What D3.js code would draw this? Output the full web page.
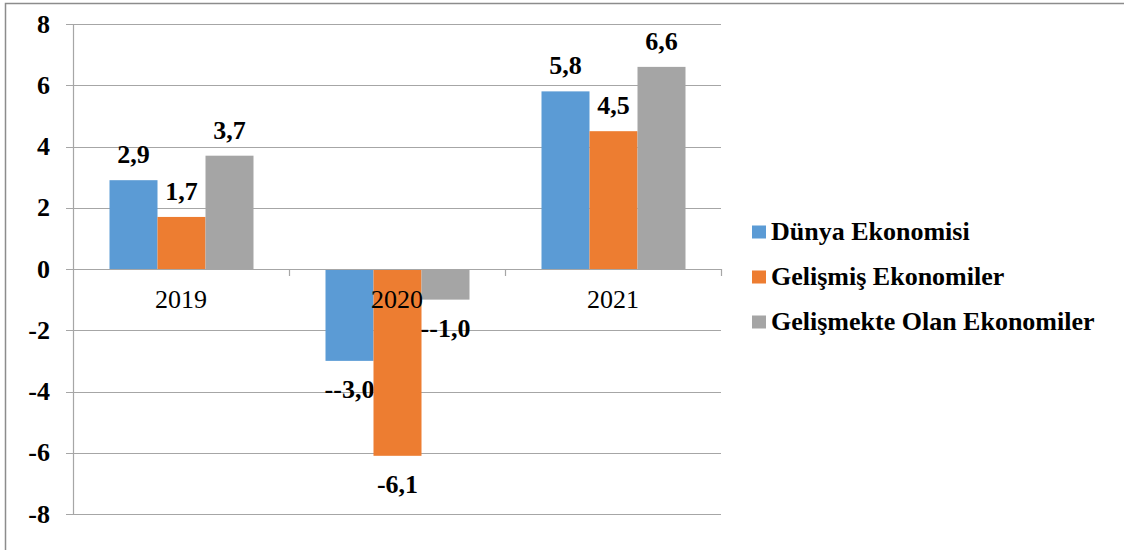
<!DOCTYPE html>
<html>
<head>
<meta charset="utf-8">
<script src="https://cdn.jsdelivr.net/npm/d3@7"></script>
<style>
  body { margin: 0; background: #fff; }
</style>
</head>
<body>
<svg id="chart" width="1124" height="550"></svg>
<script>
// data
const years = ['2019', '2020', '2021'];
const seriesNames = ['Dünya Ekonomisi', 'Gelişmiş Ekonomiler', 'Gelişmekte Olan Ekonomiler'];
const dunya = [2.9, -3.0, 5.8];
const gelismis = [1.7, -6.1, 4.5];
const gelismekte = [3.7, -1.0, 6.6];
// labels as printed in the source
const dunyaLabels = ['2,9', '--3,0', '5,8'];
const gelismisLabels = ['1,7', '-6,1', '4,5'];
const gelismekteLabels = ['3,7', '--1,0', '6,6'];
const yTicks = [-8, -6, -4, -2, 0, 2, 4, 6, 8];
const colors = ['#5b9bd5', '#ed7d31', '#a5a5a5'];

const series = [dunya, gelismis, gelismekte];
const seriesLabels = [dunyaLabels, gelismisLabels, gelismekteLabels];
const serifFont = '"Liberation Serif"';
const gridColor = '#a6a6a6';

const svg = d3.select('#chart').style('font-family', serifFont);

// outer border
svg.append('rect')
    .attr('x', 5.5).attr('y', 3.5)
    .attr('width', 1140).attr('height', 560)
    .attr('fill', 'none').attr('stroke', '#8c8c8c').attr('stroke-width', 1.5);

const plot = {left: 73, right: 721, top: 24, bottom: 514};

const y = d3.scaleLinear().domain([-8, 8]).range([plot.bottom, plot.top]);
const x0 = d3.scaleBand().domain(years).range([plot.left, plot.right]);
const x1 = d3.scaleBand().domain(d3.range(3)).range([36.5, x0.bandwidth() - 35.5]);

// gridlines
svg.append('g').selectAll('line').data(yTicks).join('line')
    .attr('x1', plot.left - 7).attr('x2', plot.right)
    .attr('y1', d => Math.round(y(d)) + 0.5).attr('y2', d => Math.round(y(d)) + 0.5)
    .attr('stroke', gridColor).attr('stroke-width', 1.2);

// y axis line
svg.append('line')
    .attr('x1', plot.left + 0.5).attr('x2', plot.left + 0.5)
    .attr('y1', plot.top).attr('y2', plot.bottom)
    .attr('stroke', gridColor).attr('stroke-width', 1.2);

// y labels
svg.append('g').selectAll('text').data(yTicks).join('text')
    .attr('x', 50).attr('y', d => y(d))
    .attr('dy', '0.33em')
    .attr('text-anchor', 'end')
    .style('font-family', serifFont)
    .attr('font-weight', 'bold').attr('font-size', 26)
    .text(d => d);

// bars
const groups = svg.append('g').selectAll('g').data(years).join('g')
    .attr('transform', d => `translate(${x0(d)},0)`);

groups.each(function (yr, i) {
    const g = d3.select(this);
    series.forEach((s, k) => {
        const v = s[i];
        g.append('rect')
            .attr('x', x1(k)).attr('width', x1.bandwidth())
            .attr('y', y(Math.max(0, v)))
            .attr('height', Math.abs(y(v) - y(0)))
            .attr('fill', colors[k]);
        g.append('text')
            .attr('x', x1(k) + x1.bandwidth() / 2)
            .attr('y', v >= 0 ? y(v) - 17 : y(v) + 37)
            .attr('text-anchor', 'middle')
            .style('font-family', serifFont)
            .attr('font-weight', 'bold').attr('font-size', 26)
            .text(seriesLabels[k][i]);
    });
});

// zero axis + ticks
svg.append('line')
    .attr('x1', plot.left).attr('x2', plot.right)
    .attr('y1', Math.round(y(0)) + 0.5).attr('y2', Math.round(y(0)) + 0.5)
    .attr('stroke', gridColor).attr('stroke-width', 1.2);
svg.append('g').selectAll('line').data(years.slice(1)).join('line')
    .attr('x1', d => x0(d) + 0.5).attr('x2', d => x0(d) + 0.5)
    .attr('y1', y(0)).attr('y2', y(0) + 7)
    .attr('stroke', gridColor).attr('stroke-width', 1.2);
svg.append('line')
    .attr('x1', plot.right + 0.5).attr('x2', plot.right + 0.5)
    .attr('y1', y(0)).attr('y2', y(0) + 7)
    .attr('stroke', gridColor).attr('stroke-width', 1.2);

// category labels
svg.append('g').selectAll('text').data(years).join('text')
    .attr('x', d => x0(d) + x0.bandwidth() / 2)
    .attr('y', y(0) + 39)
    .attr('text-anchor', 'middle')
    .style('font-family', serifFont)
    .attr('font-size', 26)
    .text(d => d);

// legend
const legend = svg.append('g').selectAll('g').data(seriesNames).join('g')
    .attr('transform', (d, i) => `translate(752,${232 + i * 45})`);
legend.append('rect')
    .attr('x', 0).attr('y', -6.5).attr('width', 14).attr('height', 13)
    .attr('fill', (d, i) => colors[i]);
legend.append('text')
    .attr('x', 19).attr('y', 8)
    .style('font-family', serifFont)
    .attr('font-weight', 'bold').attr('font-size', 26)
    .text(d => d);
</script>
</body>
</html>
